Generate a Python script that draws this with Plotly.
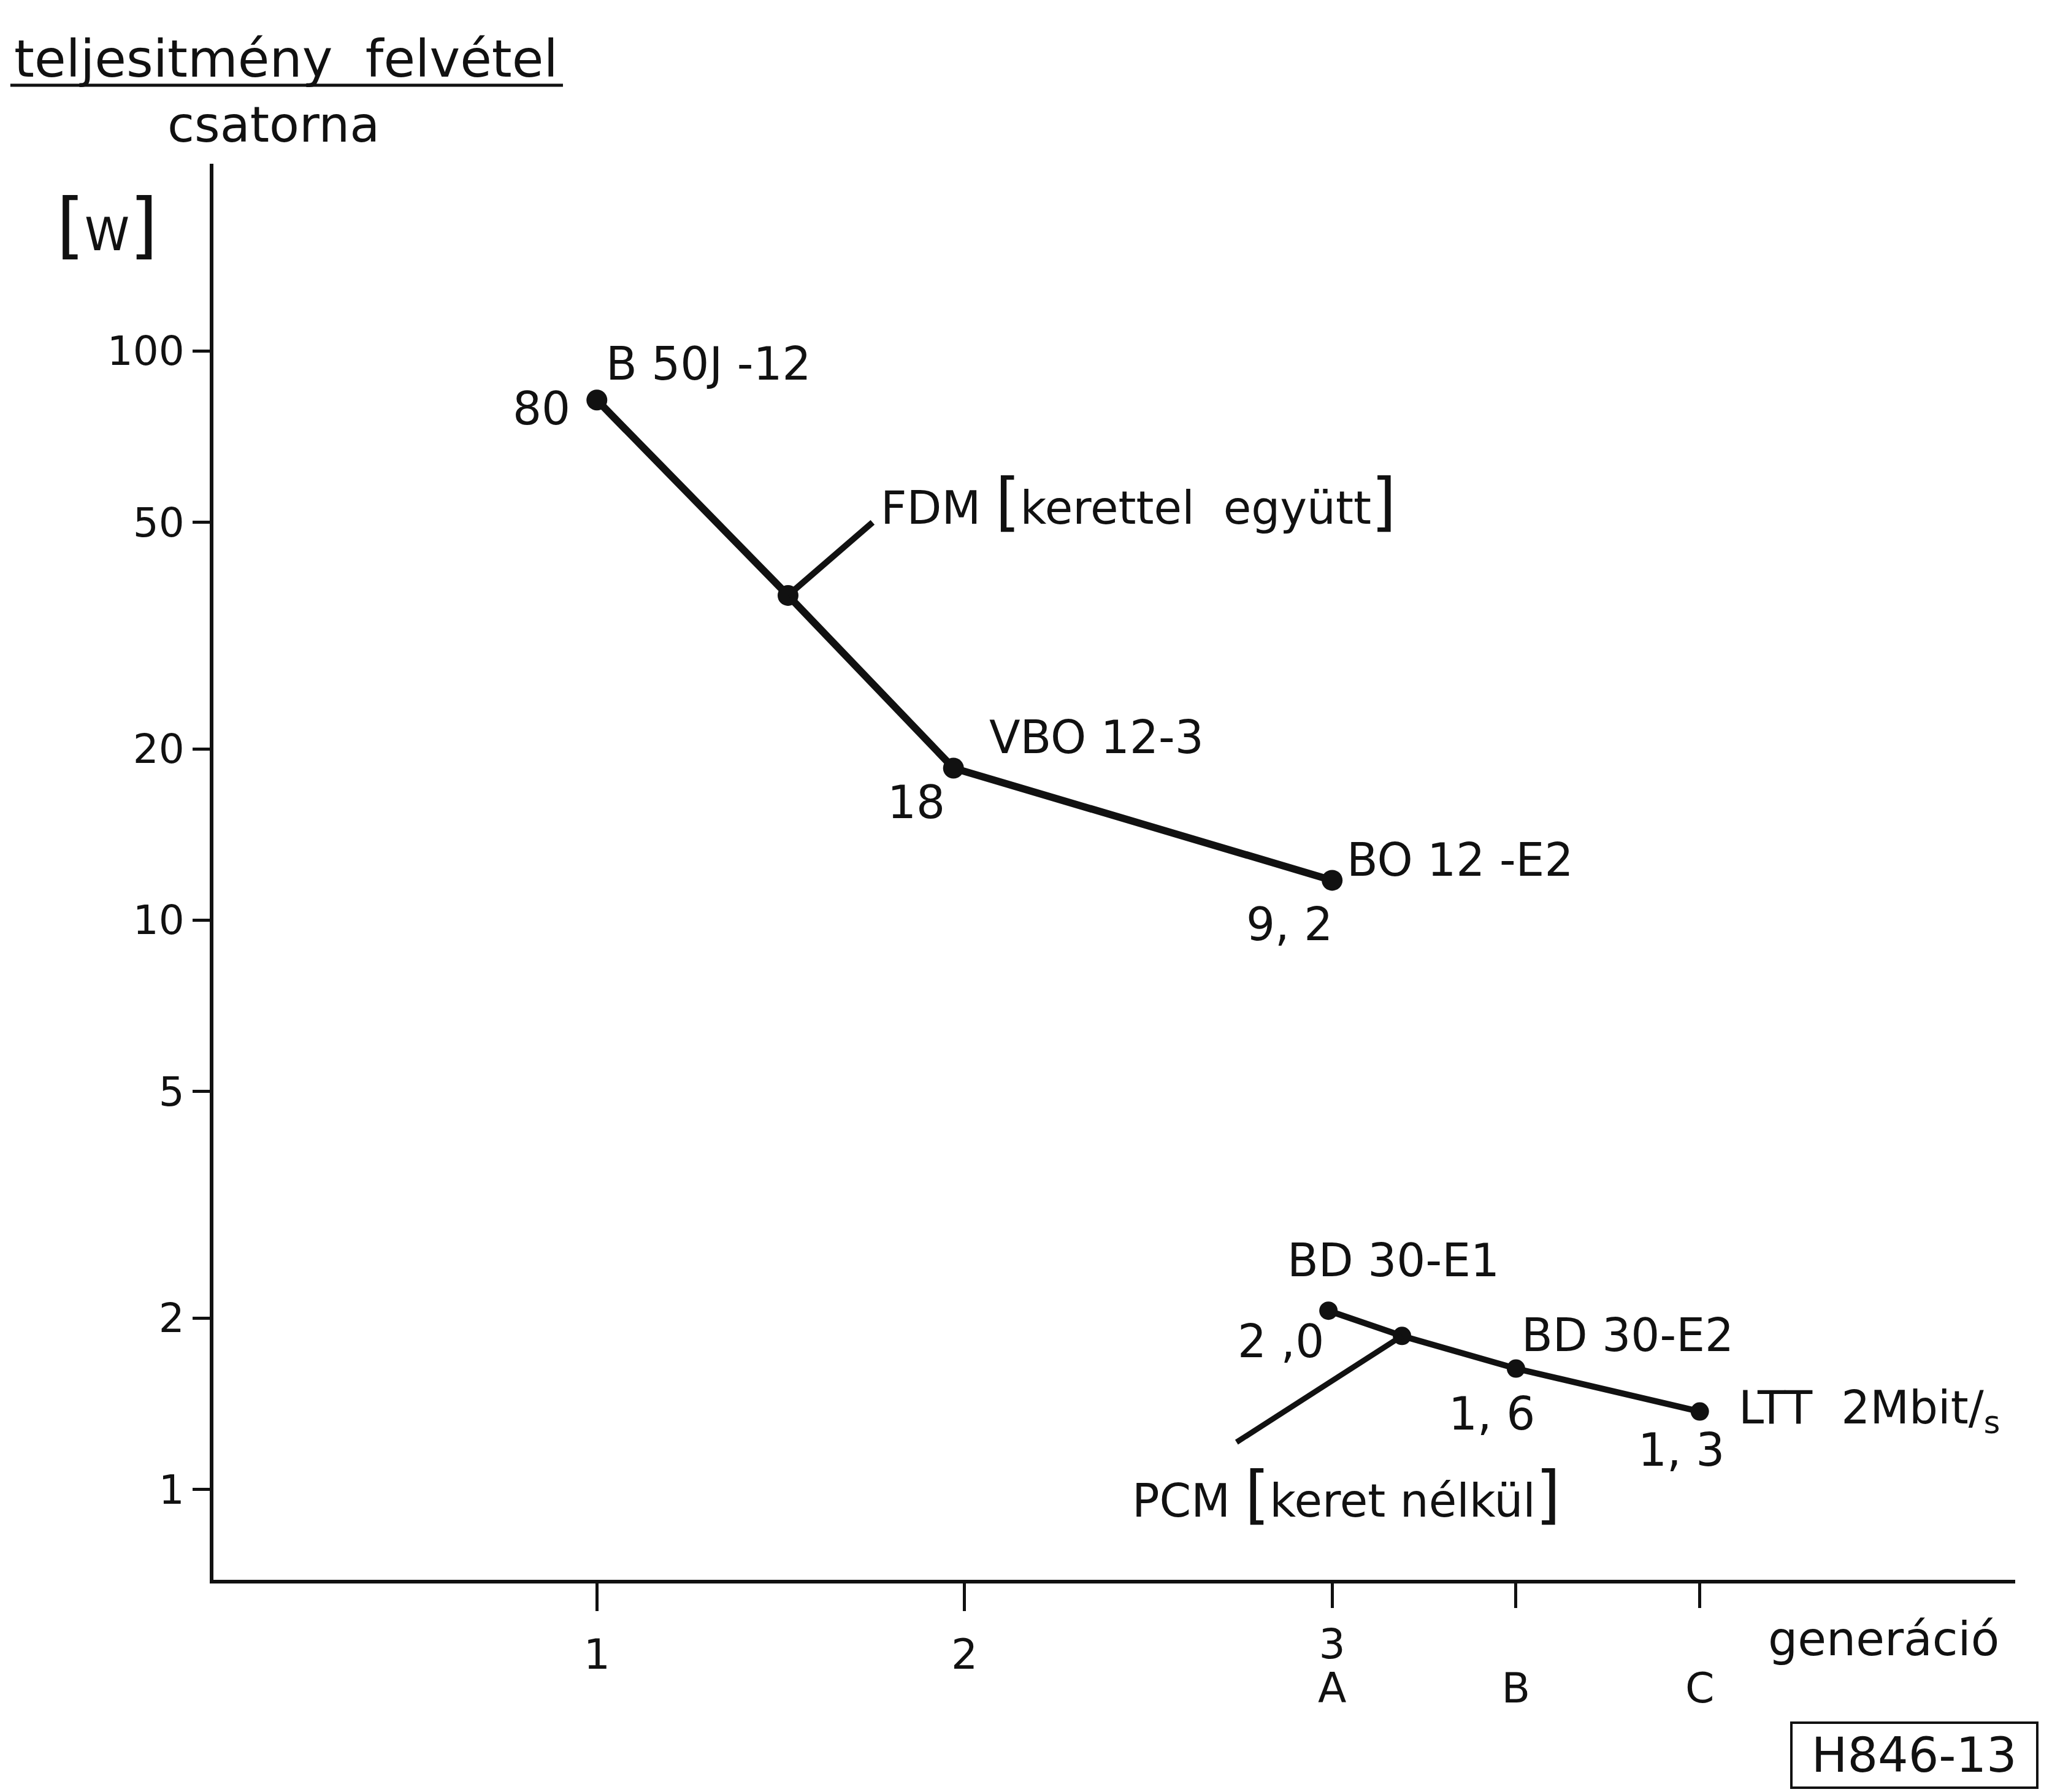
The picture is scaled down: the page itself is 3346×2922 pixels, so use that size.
import math
import plotly.graph_objects as go

# ---------------- data ----------------
fdm_gen = [1.0, 1.52, 1.97, 3.0]
fdm_power = [82, 37.2, 18.5, 11.75]
fdm_leader_gen = [1.52, 1.75]
fdm_leader_power = [37.2, 50]

pcm_gen = [2.99, 3.19, 3.5, 4.0]
pcm_power = [2.06, 1.86, 1.63, 1.37]
pcm_leader_gen = [3.19, 2.74]
pcm_leader_power = [1.86, 1.21]

y_tickvals = [1, 2, 5, 10, 20, 50, 100]
y_ticktext = ["1", "2", "5", "10", "20", "50", "100"]
x_tickvals = [1, 2]
x_ticktext = ["1", "2"]
gen3_tickvals = [3]
gen3_ticktext = ["3"]
sub_tickvals = [3, 3.5, 4]
sub_ticktext = ["A", "B", "C"]

BR_L = "<span style='font-size:104px'>[</span>"
BR_R = "<span style='font-size:104px'>]</span>"

# point / group labels: text, x (generation), y (W), xanchor
label_text = ["B 50J -12", "80", "FDM " + BR_L + "kerettel  együtt" + BR_R,
              "VBO 12-3", "18", "BO 12 -E2", "9, 2",
              "BD 30-E1", "2 ,0", "BD 30-E2", "1, 6", "1, 3",
              "LTT  2Mbit/<sub>s</sub>", "PCM " + BR_L + "keret nélkül" + BR_R]
label_x = [1.021, 0.932, 1.769, 2.064, 1.868, 3.036, 2.883,
           2.875, 2.861, 3.512, 3.434, 3.950, 4.103, 2.452]
label_y = [94.9, 79.3, 54.4, 20.98, 16.1, 12.76, 9.84,
           2.525, 1.819, 1.867, 1.359, 1.172, 1.374, 0.979]
label_anchor = ["left", "right", "left", "left", "center", "left", "center",
                "left", "center", "left", "center", "center", "left", "left"]

FONT = "DejaVu Sans"
BLACK = "#111111"
X_RANGE = [-0.043, 4.858]

fig = go.Figure()

fig.add_trace(go.Scatter(x=fdm_gen, y=fdm_power, mode="lines+markers",
                         line=dict(color=BLACK, width=12),
                         marker=dict(color=BLACK, size=34), showlegend=False))
fig.add_trace(go.Scatter(x=fdm_leader_gen, y=fdm_leader_power, mode="lines",
                         line=dict(color=BLACK, width=10), showlegend=False))
fig.add_trace(go.Scatter(x=pcm_gen, y=pcm_power, mode="lines+markers",
                         line=dict(color=BLACK, width=10),
                         marker=dict(color=BLACK, size=30), showlegend=False))
fig.add_trace(go.Scatter(x=pcm_leader_gen, y=pcm_leader_power, mode="lines",
                         line=dict(color=BLACK, width=9), showlegend=False))
# invisible carrier traces for the extra label axes
fig.add_trace(go.Scatter(x=sub_tickvals, y=[1, 1, 1], xaxis="x2", yaxis="y",
                         mode="markers", marker=dict(opacity=0, size=1),
                         hoverinfo="skip", showlegend=False))
fig.add_trace(go.Scatter(x=gen3_tickvals, y=[1], xaxis="x3", yaxis="y",
                         mode="markers", marker=dict(opacity=0, size=1),
                         hoverinfo="skip", showlegend=False))

annotations = []
for t, x, y, a in zip(label_text, label_x, label_y, label_anchor):
    annotations.append(dict(text=t, x=x, y=math.log10(y), xref="x", yref="y",
                            xanchor=a, yanchor="middle", showarrow=False,
                            font=dict(family=FONT, size=74, color=BLACK)))

# outside texts (paper coordinates)
annotations += [
    dict(text="teljesitmény  felvétel", x=-0.1113, y=1.0741, xref="paper", yref="paper",
         xanchor="left", yanchor="middle", showarrow=False,
         font=dict(family=FONT, size=84, color=BLACK)),
    dict(text="csatorna", x=0.0334, y=1.0277, xref="paper", yref="paper",
         xanchor="center", yanchor="middle", showarrow=False,
         font=dict(family=FONT, size=80, color=BLACK)),
    dict(text="<span style='font-size:118px'>[</span>W<span style='font-size:118px'>]</span>",
         x=-0.0589, y=0.9567, xref="paper", yref="paper",
         xanchor="center", yanchor="middle", showarrow=False,
         font=dict(family=FONT, size=74, color=BLACK)),
    dict(text="generáció", x=0.8621, y=-0.0416, xref="paper", yref="paper",
         xanchor="left", yanchor="middle", showarrow=False,
         font=dict(family=FONT, size=76, color=BLACK)),
    dict(text="\u00a0H846-13\u00a0", x=0.9441, y=-0.1478, xref="paper", yref="paper",
         xanchor="center", yanchor="bottom", showarrow=False,
         bordercolor=BLACK, borderwidth=4, borderpad=6,
         font=dict(family=FONT, size=78, color=BLACK)),
]

tick_common = dict(showgrid=False, zeroline=False, tickmode="array",
                   ticks="outside", ticklen=45, tickwidth=5, tickcolor=BLACK,
                   tickfont=dict(family=FONT, size=68, color=BLACK))

fig.update_layout(
    width=3346, height=2922, autosize=False,
    margin=dict(l=348, r=60, t=267, b=346),
    paper_bgcolor="white", plot_bgcolor="white",
    font=dict(family=FONT, color=BLACK),
    annotations=annotations,
    shapes=[dict(type="line", xref="paper", yref="paper",
                 x0=-0.1127, x1=0.1940, y0=1.0554, y1=1.0554,
                 line=dict(color=BLACK, width=5))],
    xaxis=dict(range=X_RANGE, showline=True, linecolor=BLACK, linewidth=6,
               tickvals=x_tickvals, ticktext=x_ticktext,
               ticklabelstandoff=12, **tick_common),
    xaxis3=dict(range=X_RANGE, overlaying="x", side="bottom", anchor="y",
                showline=False, tickvals=gen3_tickvals, ticktext=gen3_ticktext,
                ticklabelstandoff=0, **tick_common),
    xaxis2=dict(range=X_RANGE, overlaying="x", side="bottom", anchor="y",
                showline=False, tickvals=sub_tickvals, ticktext=sub_ticktext,
                ticklabelstandoff=72, **tick_common),
    yaxis=dict(type="log", range=[-0.159, 2.329], showgrid=False, zeroline=False,
               showline=True, linecolor=BLACK, linewidth=6,
               tickmode="array", tickvals=y_tickvals, ticktext=y_ticktext,
               ticks="outside", ticklen=28, tickwidth=5, tickcolor=BLACK,
               tickfont=dict(family=FONT, size=66, color=BLACK)),
)

fig.write_html("out.html", config={"displayModeBar": False},
               post_script="document.body.style.margin='0';")
